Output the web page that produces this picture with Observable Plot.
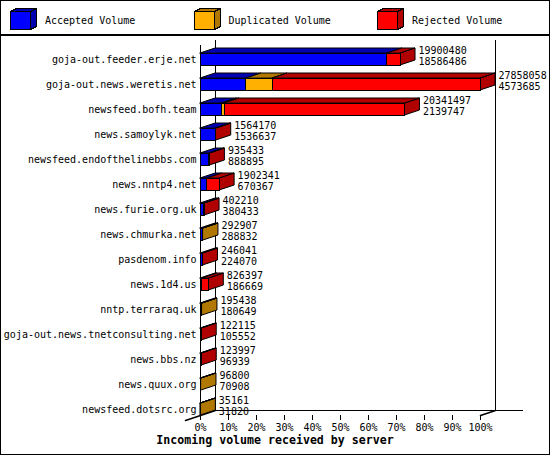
<!DOCTYPE html>
<html>
<head>
<meta charset="utf-8">
<script src="https://cdn.jsdelivr.net/npm/d3@7"></script>
<script src="https://cdn.jsdelivr.net/npm/@observablehq/plot@0.6"></script>
<style>
  html, body { margin: 0; padding: 0; background: #fff; }
  #page { position: relative; width: 550px; height: 455px; overflow: hidden; background: #fff;
          font-family: "DejaVu Sans Mono", monospace; }
  #border { position: absolute; left: 0; top: 0; width: 550px; height: 455px; box-sizing: border-box;
            border: 1px solid #000; pointer-events: none; }
  #legend { position: absolute; left: 0; top: 0; width: 550px; height: 34px; border-bottom: 2px solid #000; }
  .item { position: absolute; top: 0; height: 34px; }
  .item svg { position: absolute; left: 0; top: 0; }
  .item span { position: absolute; left: 35px; top: 15px; font-size: 10px; line-height: 12px; white-space: nowrap; color: #000; }
  #chart { position: absolute; left: 0; top: 36px; }
  #caption { position: absolute; left: 0; top: 433px; width: 550px; text-align: center;
             font-weight: bold; font-size: 11.6px; line-height: 15px; white-space: nowrap; }
</style>
</head>
<body>
<div id="page">
  <div id="legend"></div>
  <div id="chart"></div>
  <div id="caption">Incoming volume received by server</div>
  <div id="border"></div>
</div>
<script>
// ---- data ----
const servers = [
  "goja-out.feeder.erje.net",
  "goja-out.news.weretis.net",
  "newsfeed.bofh.team",
  "news.samoylyk.net",
  "newsfeed.endofthelinebbs.com",
  "news.nntp4.net",
  "news.furie.org.uk",
  "news.chmurka.net",
  "pasdenom.info",
  "news.1d4.us",
  "nntp.terraraq.uk",
  "goja-out.news.tnetconsulting.net",
  "news.bbs.nz",
  "news.quux.org",
  "newsfeed.dotsrc.org"
];
const totals     = [19900480, 27858058, 20341497, 1564170, 935433, 1902341, 402210, 292907, 246041, 826397, 195438, 122115, 123997, 96800, 35161];
const accepted   = [18586486, 4573685, 2139747, 1536637, 888895, 670367, 380433, 288832, 224070, 186669, 180649, 105552, 96939, 70908, 31820];
const duplicated = [0, 2590000, 250000, 0, 0, 0, 0, 4075, 0, 0, 14789, 0, 0, 25892, 3341];
const rejected   = totals.map((t, i) => t - accepted[i] - duplicated[i]);

const categories = ["Accepted Volume", "Duplicated Volume", "Rejected Volume"];
const frontColors = ["#0000ff", "#ffb000", "#ff0000"];
const darkColors  = ["#0000b0", "#b07800", "#b00000"];
const xTicks = d3.range(0, 101, 10);

// ---- style constants (3D depth) ----
const DEPTH_X = 15 * 100 / 280; // 15px in percent units
const DEPTH_Y = 0.2;            // 5px in row units
const HALF = 0.24;              // half bar height (6px) in row units

// ---- legend ----
const legend = document.getElementById("legend");
categories.forEach((c, k) => {
  const it = document.createElement("div");
  it.className = "item";
  it.style.left = (10 + 183.5 * k) + "px";
  it.innerHTML = `<svg width="34" height="34" shape-rendering="crispEdges">
    <polygon points="0.5,11.5 6.5,8.5 26.5,8.5 20.5,11.5" fill="${darkColors[k]}" stroke="#000"/>
    <polygon points="20.5,11.5 26.5,8.5 26.5,26.5 20.5,29.5" fill="${darkColors[k]}" stroke="#000"/>
    <rect x="0.5" y="11.5" width="20" height="18" fill="${frontColors[k]}" stroke="#000"/>
  </svg><span>${c}</span>`;
  legend.appendChild(it);
});

// ---- derived geometry from data ----
const maxTotal = d3.max(totals);
const pct = v => v / maxTotal * 100;
const segs = [];
servers.forEach((s, i) => {
  let start = 0;
  [accepted[i], duplicated[i], rejected[i]].forEach((v, k) => {
    if (v > 0) {
      const end = start + pct(v);
      segs.push({row: i, k, start, end, id: i * 3 + k});
      start = end;
    }
  });
});
const lastSeg = d3.rollup(segs, v => v[v.length - 1], d => d.row);

const frontMarks = [], topMarks = [], sideMarks = [];
categories.forEach((c, k) => {
  const s = segs.filter(d => d.k === k);
  frontMarks.push(Plot.rect(s, {
    x1: "start", x2: "end",
    y1: d => d.row - HALF, y2: d => d.row + HALF,
    fill: frontColors[k], stroke: "#000", strokeWidth: 1, shapeRendering: "crispEdges"
  }));
  const tops = s.flatMap(d => [
    {id: d.id, y: d.row - HALF, x1: d.start, x2: d.end},
    {id: d.id, y: d.row - HALF - DEPTH_Y, x1: d.start + DEPTH_X, x2: d.end + DEPTH_X}
  ]);
  topMarks.push(Plot.areaX(tops, {
    y: "y", x1: "x1", x2: "x2", z: "id",
    fill: darkColors[k], stroke: "#000", strokeWidth: 1
  }));
  const sides = Array.from(lastSeg.values()).filter(d => d.k === k).flatMap(d => [
    {id: d.row, x: d.end, y1: d.row - HALF, y2: d.row + HALF},
    {id: d.row, x: d.end + DEPTH_X, y1: d.row - HALF - DEPTH_Y, y2: d.row + HALF - DEPTH_Y}
  ]);
  sideMarks.push(Plot.areaY(sides, {
    x: "x", y1: "y1", y2: "y2", z: "id",
    fill: darkColors[k], stroke: "#000", strokeWidth: 1
  }));
});

const rows = servers.map((s, i) => ({row: i, total: totals[i], acc: accepted[i]}));
const n = servers.length;
const floorFront = n - 1 + HALF;          // front floor line (row units)
const floorBack = floorFront - DEPTH_Y;   // back floor line

const chart = Plot.plot({
  width: 550,
  height: 400,
  marginLeft: 200,
  marginRight: 70,
  marginTop: 23,
  marginBottom: 21,
  style: {fontFamily: "'DejaVu Sans Mono', monospace", fontSize: "10px", background: "#fff", color: "#000", overflow: "visible"},
  x: {domain: [0, 100], range: [200, 480]},
  y: {domain: [0, floorFront], range: [23, 379]},
  marks: [
    // back walls and floor
    Plot.ruleX([DEPTH_X, 100 + DEPTH_X], {y1: -0.76, y2: floorBack, stroke: "#000", shapeRendering: "crispEdges"}),
    Plot.ruleY([floorBack], {x1: DEPTH_X, x2: 115.36, stroke: "#000", shapeRendering: "crispEdges"}),
    Plot.line([{x: -DEPTH_X, y: floorFront + DEPTH_Y}, {x: DEPTH_X, y: floorBack}], {x: "x", y: "y", stroke: "#000"}),
    Plot.line([{x: 100, y: floorFront}, {x: 100 + DEPTH_X, y: floorBack}], {x: "x", y: "y", stroke: "#000"}),
    // front axis line
    Plot.ruleX([0], {y1: -0.56, y2: floorFront, stroke: "#000", shapeRendering: "crispEdges"}),
    ...sideMarks,
    ...topMarks,
    ...frontMarks,
    Plot.text(rows, {
      x: d => pct(d.total), y: "row",
      text: d => `${d.total}\n${d.acc}`,
      dx: 18, dy: -3.5, textAnchor: "start", lineAnchor: "middle", lineHeight: 1.1,
      fill: "#000", fontSize: 10
    }),
    Plot.axisY({ticks: d3.range(n), tickFormat: i => servers[i], tickSize: 0, tickPadding: 4, label: null, fontSize: 10}),
    Plot.axisX({ticks: xTicks, tickFormat: d => d + "%", tickSize: 5, tickPadding: 3, label: null, fontSize: 10})
  ]
});
document.getElementById("chart").appendChild(chart);
</script>
</body>
</html>
